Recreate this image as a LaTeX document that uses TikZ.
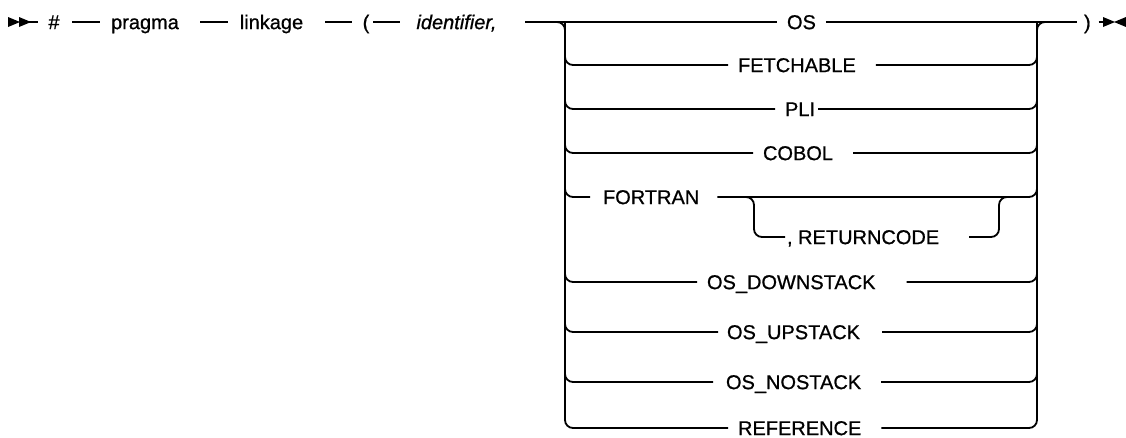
\documentclass[tikz,border=0pt]{standalone}
\usepackage{fontspec}
\setmainfont{Liberation Sans}[FakeBold=0.8]
\begin{document}
\begin{tikzpicture}[x=1pt,y=-1pt,line width=1.8pt,
  lbl/.style={inner sep=0pt,outer sep=0pt,anchor=west,text height=14.2pt,text depth=0pt,font=\fontsize{20}{23}\selectfont,minimum width=#1},
  rail/.style={rounded corners=8pt},
  tip/.style={fill=black,draw=none}]
\useasboundingbox (0,0) rectangle (1126,437);

% start symbol
\fill[tip] (8,17) -- (20,22) -- (8,27) -- cycle;
\fill[tip] (19,17) -- (31,22) -- (19,27) -- cycle;
\coordinate (st) at (20,22);

% main row
\node[lbl=12pt] (hash) at (48,22) {\#};
\node[lbl=70pt] (pragma) at (110,22) {pragma};
\node[lbl=67pt] (linkage) at (238,22) {linkage};
\node[lbl=8pt] (lpar) at (362,22) {(};
\node[lbl=87pt] (ident) at (413,22) {\itshape identifier,};
\node[lbl=26pt] (os) at (787,22) {OS};
\node[lbl=6pt] (rpar) at (1084,22) {)};
\coordinate (en) at (1110,22);

% end symbol
\fill[tip] (1103,17) -- (1115,22) -- (1103,27) -- cycle;
\fill[tip] (1126,17) -- (1114,22) -- (1126,27) -- cycle;

\draw[shorten >=10pt] (st) -- (hash);
\draw[shorten <=12pt,shorten >=10pt] (hash) -- (pragma);
\draw[shorten <=20pt,shorten >=10pt] (pragma) -- (linkage);
\draw[shorten <=20pt,shorten >=10pt] (linkage) -- (lpar);
\draw[shorten <=3pt,shorten >=13pt] (lpar) -- (ident);
\draw[shorten <=25pt,shorten >=10pt] (ident) -- (os);
\draw[shorten <=10pt,shorten >=7pt] (os) -- (rpar);
\draw[shorten <=8pt] (rpar) -- (en);

% branch labels
\node[lbl=114pt] (fetch) at (738,65) {FETCHABLE};
\node[lbl=25pt] (pli) at (785,109) {PLI};
\node[lbl=70pt] (cobol) at (763,153) {COBOL};
\node[lbl=92pt] (fortran) at (603,197) {FORTRAN};
\node[lbl=150pt] (rc) at (787,237) {, RETURNCODE};
\node[lbl=165pt] (down) at (707,282) {OS\_DOWNSTACK};
\node[lbl=132pt] (up) at (727,332) {OS\_UPSTACK};
\node[lbl=134pt] (nostack) at (726,382) {OS\_NOSTACK};
\node[lbl=121pt] (ref) at (738,428) {REFERENCE};

% rails
\coordinate (L) at (565,22);
\coordinate (Lin) at (545,22);
\coordinate (R) at (1037,22);
\coordinate (Rout) at (1057,22);

\draw[rail,shorten >=10pt] (Lin) -- (L) |- (ref);
\draw[rail,shorten <=20pt] (ref) -| (R) -- (Rout);

\draw[rail,shorten >=10pt] (L) |- (fetch);
\draw[rail,shorten <=20pt] (fetch) -| (R);
\draw[rail,shorten >=10pt] (L) |- (pli);
\draw[rail,shorten <=3pt] (pli) -| (R);
\draw[rail,shorten >=10pt] (L) |- (cobol);
\draw[rail,shorten <=20pt] (cobol) -| (R);
\draw[rail,shorten >=13pt] (L) |- (fortran);
\draw[rail,shorten <=18pt] (fortran) -| (R);
\draw[rail,shorten >=10pt] (L) |- (down);
\draw[rail,shorten <=31pt] (down) -| (R);
\draw[rail,shorten >=9pt] (L) |- (up);
\draw[rail,shorten <=22pt] (up) -| (R);
\draw[rail,shorten >=13pt] (L) |- (nostack);
\draw[rail,shorten <=20pt] (nostack) -| (R);

% RETURNCODE sub-branch
\coordinate (sL) at (754,197);
\coordinate (sLin) at (734,197);
\coordinate (sR) at (999,197);
\coordinate (sRout) at (1019,197);
\draw[rail,shorten >=2pt] (sLin) -- (sL) |- (rc);
\draw[rail,shorten <=30pt] (rc) -| (sR) -- (sRout);
\end{tikzpicture}
\end{document}
